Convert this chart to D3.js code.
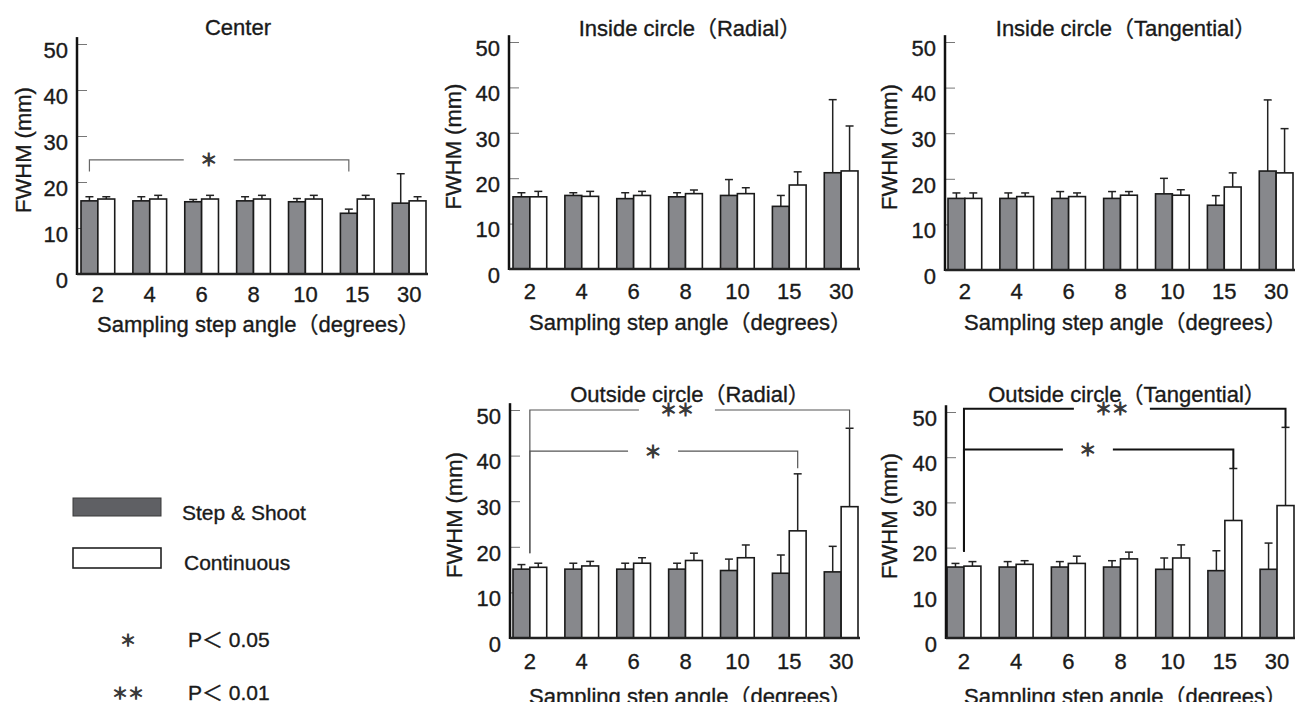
<!DOCTYPE html>
<html>
<head>
<meta charset="utf-8">
<title>FWHM vs sampling step angle</title>
<script src="https://cdn.jsdelivr.net/npm/d3@7"></script>
<style>
  body { margin: 0; background: #fff; }
  text { font-family: "Liberation Sans", Arial, "Noto Sans CJK JP", sans-serif; fill: #1a1a1a; stroke: #1a1a1a; stroke-width: 0.35px; }
  text.mark { font-family: "Noto Sans CJK JP", sans-serif; fill: #3a3a3a; stroke: #3a3a3a; stroke-width: 1.1px; }
</style>
</head>
<body>
<div id="chart"></div>
<script>
// ---- data ----
const categories = ["2", "4", "6", "8", "10", "15", "30"];
const seriesNames = ["Step & Shoot", "Continuous"];
const yTicks = [0, 10, 20, 30, 40, 50];

const centerStep    = [15.9, 15.9, 15.7, 15.9, 15.7, 13.2, 15.4];
const centerStepSd  = [0.9, 0.9, 0.5, 0.9, 0.7, 0.9, 6.4];
const centerCont    = [16.3, 16.3, 16.3, 16.3, 16.3, 16.3, 15.9];
const centerContSd  = [0.5, 0.8, 0.8, 0.8, 0.8, 0.8, 0.9];

const inRadStep     = [15.9, 16.2, 15.5, 15.9, 16.2, 13.8, 21.2];
const inRadStepSd   = [0.9, 0.6, 1.3, 0.9, 3.5, 2.4, 16.1];
const inRadCont     = [15.9, 16.0, 16.2, 16.6, 16.6, 18.5, 21.6];
const inRadContSd   = [1.2, 1.1, 0.9, 0.8, 1.3, 2.9, 9.9];

const inTanStep     = [15.7, 15.7, 15.7, 15.7, 16.7, 14.2, 21.7];
const inTanStepSd   = [1.2, 1.2, 1.5, 1.5, 3.4, 2.1, 15.6];
const inTanCont     = [15.7, 16.1, 16.1, 16.4, 16.4, 18.2, 21.3];
const inTanContSd   = [1.2, 0.8, 0.8, 0.8, 1.2, 3.1, 9.7];

const outRadStep    = [15.1, 15.1, 15.1, 15.1, 14.8, 14.2, 14.5];
const outRadStepSd  = [1.0, 1.3, 1.3, 1.3, 2.5, 4.0, 5.6];
const outRadCont    = [15.5, 15.8, 16.4, 17.0, 17.6, 23.5, 28.8];
const outRadContSd  = [0.9, 1.0, 1.2, 1.6, 2.8, 12.5, 17.2];

const outTanStep    = [15.7, 15.7, 15.7, 15.7, 15.2, 14.9, 15.2];
const outTanStepSd  = [0.8, 1.2, 1.2, 1.4, 2.5, 4.4, 5.8];
const outTanCont    = [15.9, 16.3, 16.5, 17.5, 17.7, 26.0, 29.3];
const outTanContSd  = [1.0, 0.8, 1.6, 1.5, 2.9, 11.5, 17.3];

// significance brackets: from/to = [category, "step" | "cont" | "mid"]
const centerSig = [
  { from: ["2", "step"], to: ["15", "step"], level: 24.8, dropL: 22.3, dropR: 22.3, mark: "＊" }
];
const outRadSig = [
  { from: ["2", "mid"], to: ["30", "cont"], level: 50.0, dropL: 18.6, dropR: 46.0, mark: "＊＊" },
  { from: ["2", "mid"], to: ["15", "cont"], level: 41.0, dropL: 18.6, dropR: 37.2, mark: "＊" }
];
const outTanSig = [
  { from: ["2", "mid"], to: ["30", "cont"], level: 50.7, dropL: 19.1, dropR: 46.6, mark: "＊＊" },
  { from: ["2", "mid"], to: ["15", "cont"], level: 41.7, dropL: 19.1, dropR: 37.5, mark: "＊" }
];

const sigMarks = ["＊", "＊＊"];
const sigLabels = ["P＜ 0.05", "P＜ 0.01"];

// ---- layout ----
const panels = [
  { title: "Center", step: centerStep, stepSd: centerStepSd, cont: centerCont, contSd: centerContSd, sig: centerSig,
    axisX: 77, barL: 81, barR: 426, y0: 274, y50: 44, titleX: 238, titleY: 35, yLabX: 23, catPad: 12, xTitleDy: 58,
    sigColor: "#666", sigWidth: 1.2 },
  { title: "Inside circle（Radial）", step: inRadStep, stepSd: inRadStepSd, cont: inRadCont, contSd: inRadContSd, sig: [],
    axisX: 509, barL: 513, barR: 858, y0: 269, y50: 42, titleX: 690, titleY: 36, yLabX: 453, catPad: 14, xTitleDy: 61 },
  { title: "Inside circle（Tangential）", step: inTanStep, stepSd: inTanStepSd, cont: inTanCont, contSd: inTanContSd, sig: [],
    axisX: 945, barL: 948, barR: 1293, y0: 270, y50: 42, titleX: 1126, titleY: 36, yLabX: 889, catPad: 13, xTitleDy: 60 },
  { title: "Outside circle（Radial）", step: outRadStep, stepSd: outRadStepSd, cont: outRadCont, contSd: outRadContSd, sig: outRadSig,
    axisX: 510, barL: 513, barR: 858, y0: 638, y50: 410, titleX: 690, titleY: 402, yLabX: 454, catPad: 15, xTitleDy: 66,
    sigColor: "#555", sigWidth: 1.2 },
  { title: "Outside circle（Tangential）", step: outTanStep, stepSd: outTanStepSd, cont: outTanCont, contSd: outTanContSd, sig: outTanSig,
    axisX: 946, barL: 947, barR: 1294, y0: 638, y50: 412, titleX: 1127, titleY: 402, yLabX: 889, catPad: 15, xTitleDy: 66,
    sigColor: "#111", sigWidth: 2 }
];

const FS = 22;
const stepFill = "#87888c";

const svg = d3.select("#chart").append("svg")
    .attr("width", 1295)
    .attr("height", 702);

function drawPanel(p) {
  let g = svg.append("g");

  let x = d3.scaleBand().domain(categories).range([p.barL, p.barR]).paddingInner(0.35).paddingOuter(0);
  let xs = d3.scaleBand().domain(["step", "cont"]).range([0, x.bandwidth()]);
  let y = d3.scaleLinear().domain([0, 50]).range([p.y0, p.y50]);

  let rows = categories.map(function(c, i) {
    return [
      { cat: c, s: "step", v: p.step[i], sd: p.stepSd[i] },
      { cat: c, s: "cont", v: p.cont[i], sd: p.contSd[i] }
    ];
  }).flat();

  // y axis: ticks point inward, labels on the left
  let yAxis = d3.axisLeft(y).tickValues(yTicks).tickSizeInner(-10).tickSizeOuter(0).tickPadding(9);
  let ya = g.append("g").attr("transform", "translate(" + p.axisX + ",0)").call(yAxis);
  ya.select(".domain").remove();
  ya.selectAll(".tick line").attr("stroke", "#777").attr("stroke-width", 1);
  ya.selectAll(".tick text").attr("font-size", FS).attr("dy", "0.6em")
    .attr("font-family", null);

  // error bars (upper only)
  let capW = 8;
  let eb = g.append("g").attr("stroke", "#222").attr("stroke-width", 1.5);
  eb.selectAll("line.v").data(rows).enter().append("line")
      .attr("x1", d => x(d.cat) + xs(d.s) + xs.bandwidth() / 2)
      .attr("x2", d => x(d.cat) + xs(d.s) + xs.bandwidth() / 2)
      .attr("y1", d => y(d.v))
      .attr("y2", d => y(d.v + d.sd));
  eb.selectAll("line.c").data(rows).enter().append("line")
      .attr("x1", d => x(d.cat) + xs(d.s) + xs.bandwidth() / 2 - capW / 2)
      .attr("x2", d => x(d.cat) + xs(d.s) + xs.bandwidth() / 2 + capW / 2)
      .attr("y1", d => y(d.v + d.sd))
      .attr("y2", d => y(d.v + d.sd));

  // bars
  g.append("g").selectAll("rect").data(rows).enter().append("rect")
      .attr("x", d => x(d.cat) + xs(d.s))
      .attr("y", d => y(d.v))
      .attr("width", xs.bandwidth())
      .attr("height", d => y(0) - y(d.v))
      .attr("fill", d => d.s === "step" ? stepFill : "#fff")
      .attr("stroke", "#1a1a1a")
      .attr("stroke-width", 1.6);

  // axis lines
  g.append("line")
      .attr("x1", p.axisX).attr("x2", p.axisX)
      .attr("y1", y(0) + 1).attr("y2", y(51.5))
      .attr("stroke", "#111").attr("stroke-width", 2.5);
  g.append("line")
      .attr("x1", p.axisX).attr("x2", p.barR + 2)
      .attr("y1", y(0)).attr("y2", y(0))
      .attr("stroke", "#222").attr("stroke-width", 2.5);

  // category labels
  let xAxis = d3.axisBottom(x).tickSize(0).tickPadding(p.catPad);
  let xa = g.append("g").attr("transform", "translate(0," + y(0) + ")").call(xAxis);
  xa.select(".domain").remove();
  xa.selectAll(".tick text").attr("font-size", FS).attr("font-family", null);

  // titles
  g.append("text")
      .attr("x", p.titleX).attr("y", p.titleY)
      .attr("text-anchor", "middle").attr("font-size", FS)
      .text(p.title);
  g.append("text")
      .attr("x", (p.barL + p.barR) / 2 + 5).attr("y", y(0) + p.xTitleDy)
      .attr("text-anchor", "middle").attr("font-size", FS)
      .text("Sampling step angle（degrees）");
  g.append("text")
      .attr("transform", "translate(" + p.yLabX + "," + ((y(0) + y(50)) / 2 - 9) + ") rotate(-90)")
      .attr("text-anchor", "middle").attr("dy", "0.35em").attr("font-size", FS)
      .text("FWHM (mm)");

  // significance brackets
  function px(e) {
    if (e[1] === "mid") return x(e[0]) + x.bandwidth() / 2;
    return x(e[0]) + xs(e[1]) + xs.bandwidth() / 2;
  }
  p.sig.forEach(function(b) {
    let xl = px(b.from), xr = px(b.to), yl = y(b.level);
    let gc = xl + (xr - xl) * 0.46;
    let half = b.mark.length > 1 ? 38 : 25;
    let bg = g.append("g").attr("stroke", p.sigColor).attr("stroke-width", p.sigWidth).attr("fill", "none");
    bg.append("path").attr("d", "M" + xl + "," + y(b.dropL) + "V" + yl + "H" + (gc - half));
    bg.append("path").attr("d", "M" + (gc + half) + "," + yl + "H" + xr + "V" + y(b.dropR));
    g.append("text").attr("class", "mark")
        .attr("x", gc).attr("y", yl).attr("dy", "0.38em")
        .attr("text-anchor", "middle").attr("font-size", 17)
        .text(b.mark);
  });
}

panels.forEach(drawPanel);

// ---- legend ----
let lg = svg.append("g");
lg.append("rect").attr("x", 73).attr("y", 498).attr("width", 88).attr("height", 18)
    .attr("fill", "#5f6064").attr("stroke", "#3a3a3a").attr("stroke-width", 1);
lg.append("rect").attr("x", 73).attr("y", 548).attr("width", 88).attr("height", 20)
    .attr("fill", "#fff").attr("stroke", "#222").attr("stroke-width", 1.6);
lg.append("text").attr("x", 182).attr("y", 513).attr("dy", "0.35em").attr("font-size", FS - 1).text(seriesNames[0]);
lg.append("text").attr("x", 184).attr("y", 563).attr("dy", "0.35em").attr("font-size", FS - 1).text(seriesNames[1]);

lg.selectAll("text.m").data(sigMarks).enter().append("text").attr("class", "mark")
    .attr("x", 128).attr("y", (d, i) => 640 + i * 53).attr("dy", "0.38em")
    .attr("text-anchor", "middle").attr("font-size", 16)
    .text(d => d);
lg.selectAll("text.p").data(sigLabels).enter().append("text")
    .attr("x", 188).attr("y", (d, i) => 640 + i * 53).attr("dy", "0.35em")
    .attr("font-size", FS - 1)
    .text(d => d);
</script>
</body>
</html>
